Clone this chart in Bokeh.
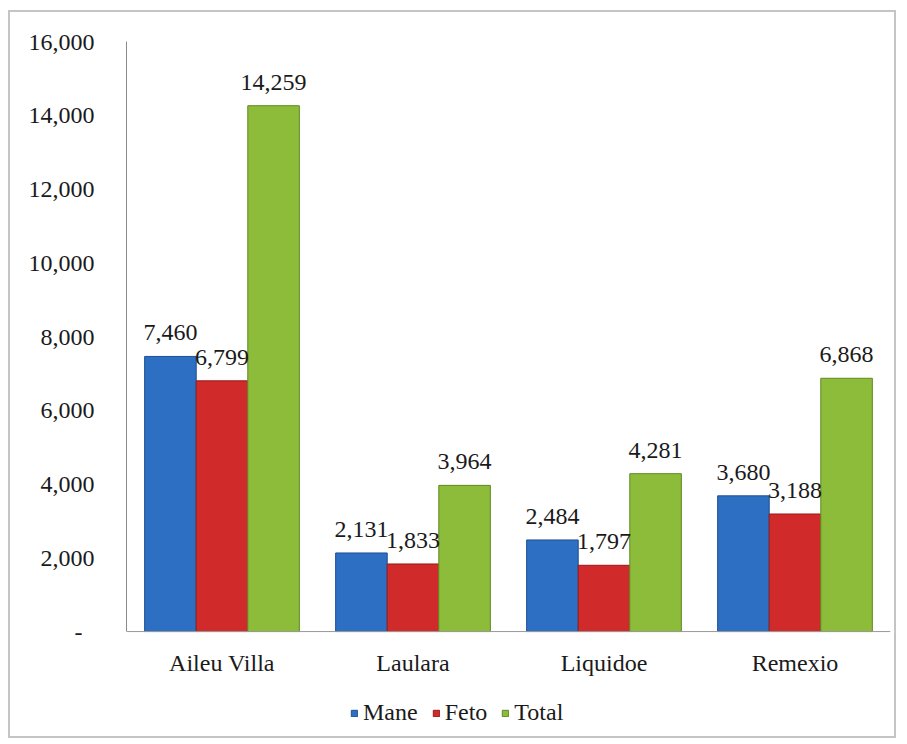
from bokeh.plotting import figure
from bokeh.models import ColumnDataSource, FactorRange, Range1d, LabelSet, Legend, LegendItem, NumeralTickFormatter, FixedTicker, Span
from bokeh.transform import dodge
from bokeh.core.properties import value
from bokeh.embed import file_html
from bokeh.resources import INLINE

categories = ["Aileu Villa", "Laulara", "Liquidoe", "Remexio"]
mane = [7460, 2131, 2484, 3680]
feto = [6799, 1833, 1797, 3188]
total = [14259, 3964, 4281, 6868]
series_names = ["Mane", "Feto", "Total"]
y_ticks = [0, 2000, 4000, 6000, 8000, 10000, 12000, 14000, 16000]

colors = ["#2d6fc2", "#d02a2a", "#8cbc3a"]
edges = ["#1d4f92", "#9a1a1a", "#5f8a20"]
FONT = "Liberation Serif"
FS = "24px"
TXT = "#1a1a1a"

src = ColumnDataSource(dict(
    cat=categories,
    zero=[0] * len(categories),
    mane=mane, feto=feto, total=total,
    mane_l=[f"{v:,}" for v in mane],
    feto_l=[f"{v:,}" for v in feto],
    total_l=[f"{v:,}" for v in total],
))

# the frame extends below zero so that category labels and legend sit inside it
p = figure(width=888, height=728, x_range=FactorRange(*categories, range_padding=0),
           y_range=Range1d(-2900, 16000), output_backend="svg", toolbar_location=None,
           min_border_left=116, min_border_right=8, min_border_top=29, min_border_bottom=2)
p.styles = {"border": "2px solid #c4c4c4", "margin": "10px 0px 0px 8px"}
p.outline_line_color = None
p.xgrid.grid_line_color = None
p.ygrid.grid_line_color = None
p.background_fill_color = "white"
p.border_fill_color = "white"

bw = 0.27
offs = [-bw, 0.0, bw]
cols = ["mane", "feto", "total"]
renderers = []
for c, o, fc, ec in zip(cols, offs, colors, edges):
    r = p.vbar(x=dodge("cat", o, range=p.x_range), top=c, width=bw, bottom=0, source=src,
               fill_color=fc, line_color=ec, line_width=1)
    renderers.append(r)
    lab = LabelSet(x=dodge("cat", o, range=p.x_range), y=c, text=c + "_l", source=src,
                   text_align="center", text_baseline="alphabetic", y_offset=16,
                   text_font=value(FONT), text_font_size=FS, text_color=TXT)
    p.add_layout(lab)

# x axis line at zero
p.add_layout(Span(location=0, dimension="width", line_color="#9a9a9a", line_width=1))

# category labels
cat_labels = LabelSet(x="cat", y="zero", text="cat", source=src, text_align="center",
                      text_baseline="alphabetic", y_offset=-39,
                      text_font=value(FONT), text_font_size=FS, text_color=TXT)
p.add_layout(cat_labels)

p.xaxis.visible = False

p.yaxis.ticker = FixedTicker(ticks=y_ticks)
p.yaxis.bounds = (0, 16000)
p.yaxis.formatter = NumeralTickFormatter(format="0,0")
p.yaxis.major_label_overrides = {0: "-\u00a0\u00a0"}
p.yaxis.major_tick_line_color = None
p.yaxis.minor_tick_line_color = None
p.yaxis.axis_line_color = "#8a8a8a"
p.yaxis.major_label_standoff = 26
p.yaxis.major_label_text_font = FONT
p.yaxis.major_label_text_font_size = FS
p.yaxis.major_label_text_color = TXT

items = [LegendItem(label=n, renderers=[r]) for n, r in zip(series_names, renderers)]
legend = Legend(items=items, orientation="horizontal", location=(224, 12),
                glyph_width=8, glyph_height=8, label_standoff=5, spacing=14, padding=0, margin=0,
                label_text_font=FONT, label_text_font_size=FS, label_text_color=TXT,
                border_line_color=None, background_fill_alpha=0)
p.add_layout(legend, "center")

open("out.html", "w").write(file_html(p, INLINE))
